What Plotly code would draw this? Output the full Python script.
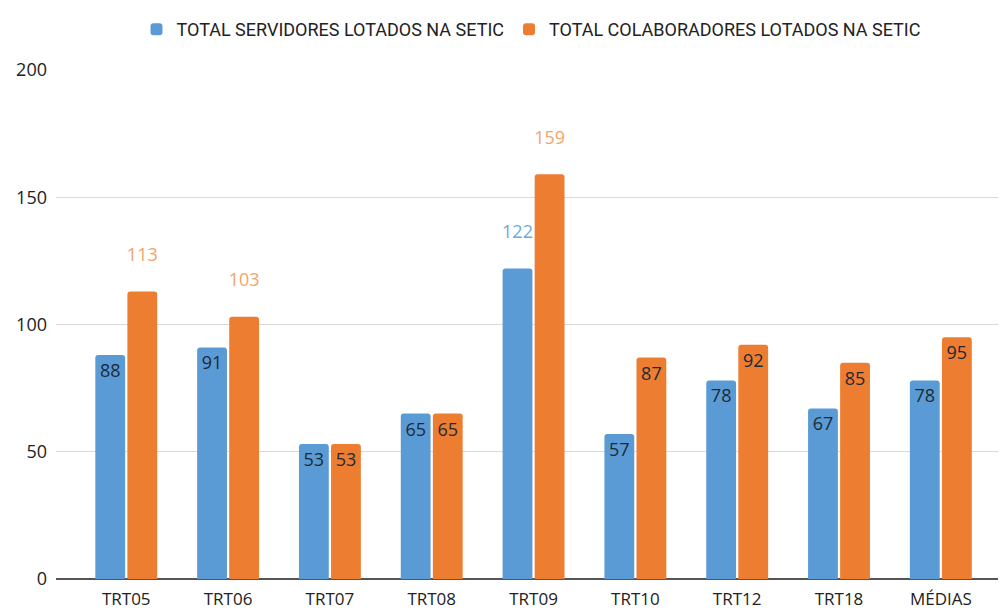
import plotly.graph_objects as go

categories = ["TRT05", "TRT06", "TRT07", "TRT08", "TRT09", "TRT10", "TRT12", "TRT18", "MÉDIAS"]
servidores = [88, 91, 53, 65, 122, 57, 78, 67, 78]
colaboradores = [113, 103, 53, 65, 159, 87, 92, 85, 95]
y_ticks = [0, 50, 100, 150, 200]

BLUE = "#5b9bd5"
ORANGE = "#ed7d31"
DARK = "#1d2a36"
LIGHT_BLUE = "#6fa8dc"
LIGHT_ORANGE = "#f3a46b"
THRESH = 100


def build(name, vals, color, light):
    pos = ["outside" if v > THRESH else "inside" for v in vals]
    txt = [f"{v}<br><span style='font-size:12px'>&nbsp;</span>" if v > THRESH else str(v) for v in vals]
    cols = [light if v > THRESH else DARK for v in vals]
    return go.Bar(
        name=name, x=categories, y=vals, marker_color=color,
        marker_line_width=0,
        text=txt, textposition=pos, insidetextanchor="end",
        textfont=dict(color=cols, size=18, family="Open Sans"),
        constraintext="none", cliponaxis=False,
    )


fig = go.Figure()
fig.add_trace(build("TOTAL SERVIDORES LOTADOS NA SETIC", servidores, BLUE, LIGHT_BLUE))
fig.add_trace(build("TOTAL COLABORADORES LOTADOS NA SETIC", colaboradores, ORANGE, LIGHT_ORANGE))

fig.update_layout(
    width=1006, height=610,
    margin=dict(l=44, r=8, t=62, b=38),
    paper_bgcolor="white", plot_bgcolor="white",
    barmode="group", bargap=0.37, bargroupgap=0.07, barcornerradius=3,
    font=dict(family="Open Sans", size=16, color="#222222"),
    legend=dict(orientation="h", x=0.5, xanchor="center", y=0.995, yref="container",
                yanchor="top", font=dict(family="Roboto", size=18, color="#222222"),
                itemwidth=30, traceorder="normal"),
    xaxis=dict(range=[-0.69, 8.64], showgrid=False, ticks="", showline=False,
               ticklabelstandoff=8, tickfont=dict(size=17, color="#222222")),
    yaxis=dict(range=[0, 200], tickvals=y_ticks, showgrid=True, gridcolor="#d9d9d9",
               gridwidth=1, zeroline=True, zerolinecolor="#555555", zerolinewidth=2,
               ticks="", ticklabelstandoff=8, tickfont=dict(size=18, color="#222222")),
)

fig.write_html("out.html")
